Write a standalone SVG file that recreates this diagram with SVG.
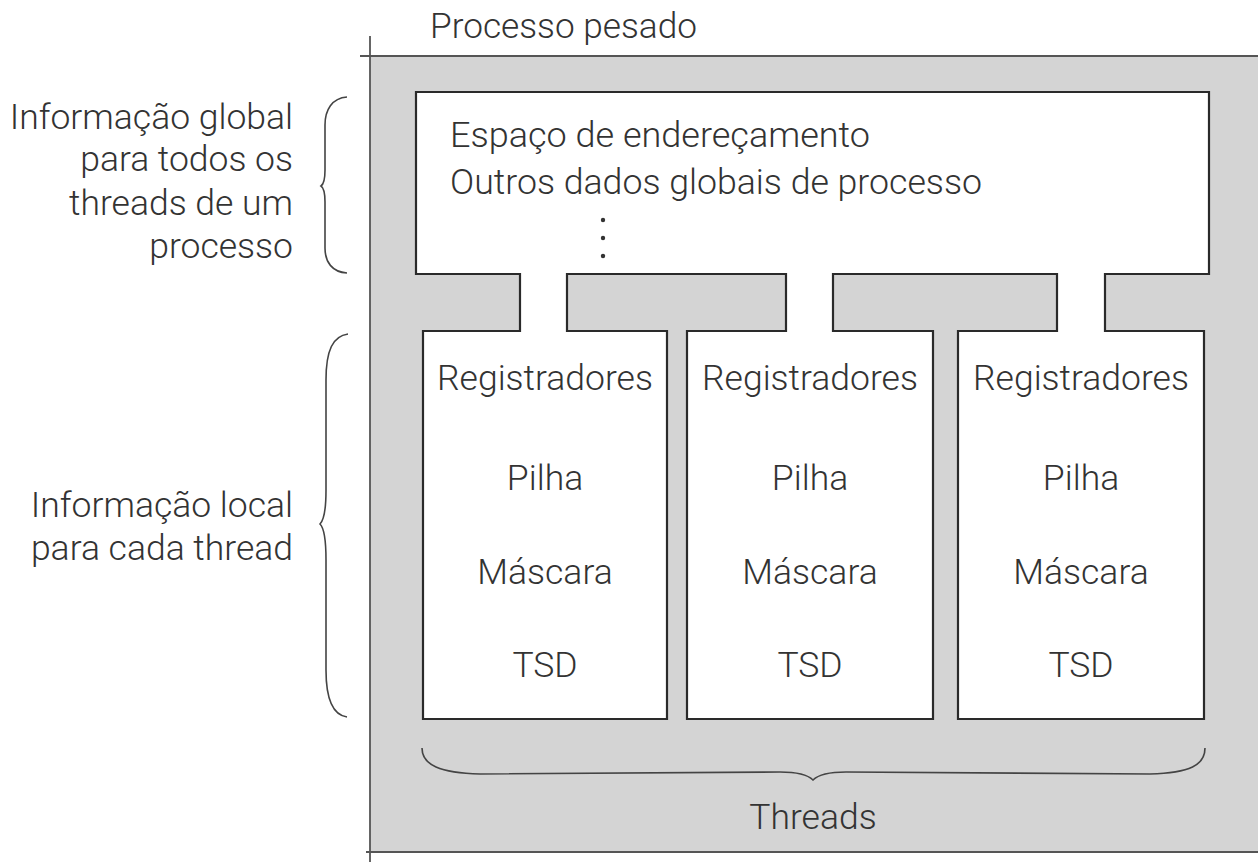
<svg xmlns="http://www.w3.org/2000/svg" width="1258" height="863" viewBox="0 0 1258 863">
<style>
  text { font-family: Roboto, "Liberation Sans", sans-serif; font-weight: 300; fill: #333; font-size: 35.5px; }
  .c { text-anchor: middle; }
  .r { text-anchor: end; }
  .frame { stroke: #555; stroke-width: 1.8; fill: none; }
  .outline { stroke: #2a2a2a; stroke-width: 2.2; fill: #fff; stroke-linejoin: miter; }
  .brace { stroke: #444; stroke-width: 1.6; fill: none; }
</style>
<rect x="0" y="0" width="1258" height="863" fill="#fff"/>
<g id="processo">
  <rect x="370" y="56" width="888" height="796" fill="#d4d4d4"/>
  <line class="frame" x1="360" y1="56" x2="1258" y2="56"/>
  <line class="frame" x1="370" y1="36" x2="370" y2="862"/>
  <line class="frame" x1="366" y1="852" x2="1258" y2="852"/>
  <text x="430" y="38" textLength="267" lengthAdjust="spacingAndGlyphs">Processo pesado</text>
</g>
<g id="estrutura">
  <path class="outline" d="M416,92 H1209 V274 H1105 V331 H1204 V719 H958 V331 H1057 V274 H833 V331 H933 V719 H687 V331 H786 V274 H567 V331 H667 V719 H423 V331 H520 V274 H416 Z"/>
</g>
<g id="global">
  <text x="450" y="147" textLength="420" lengthAdjust="spacingAndGlyphs">Espaço de endereçamento</text>
  <text x="450" y="194" textLength="532" lengthAdjust="spacingAndGlyphs">Outros dados globais de processo</text>
  <circle cx="603" cy="220" r="2.2" fill="#333"/>
  <circle cx="603" cy="238" r="2.2" fill="#333"/>
  <circle cx="603" cy="256" r="2.2" fill="#333"/>
</g>
<g id="thread1">
  <text class="c" x="545" y="390">Registradores</text>
  <text class="c" x="545" y="490">Pilha</text>
  <text class="c" x="545" y="584">Máscara</text>
  <text class="c" x="545" y="677">TSD</text>
</g>
<g id="thread2">
  <text class="c" x="810" y="390">Registradores</text>
  <text class="c" x="810" y="490">Pilha</text>
  <text class="c" x="810" y="584">Máscara</text>
  <text class="c" x="810" y="677">TSD</text>
</g>
<g id="thread3">
  <text class="c" x="1081" y="390">Registradores</text>
  <text class="c" x="1081" y="490">Pilha</text>
  <text class="c" x="1081" y="584">Máscara</text>
  <text class="c" x="1081" y="677">TSD</text>
</g>
<g id="rotulo-global">
  <text class="r" x="293" y="129">Informação global</text>
  <text class="r" x="293" y="171">para todos os</text>
  <text class="r" x="293" y="215">threads de um</text>
  <text class="r" x="293" y="258">processo</text>
</g>
<g id="rotulo-local">
  <text class="r" x="293" y="517">Informação local</text>
  <text class="r" x="293" y="560">para cada thread</text>
</g>
<g id="rotulo-threads">
  <text class="c" x="813" y="829">Threads</text>
</g>
<g id="chaves">
  <path class="brace" d="M347,97 C332,98 325,110 325,125 L325,170 C325,180 324,184 321,186 C324,188 325,192 325,202 L325,248 C325,262 332,272 347,273"/>
  <path class="brace" d="M348,334 C333,336 326,350 326,380 L326,490 C326,510 324,520 320,524 C324,528 326,538 326,560 L326,670 C326,700 333,715 347,717"/>
  <path class="brace" d="M422,748 C422,765 440,773 480,774 L780,772 C800,772 808,775 813,780 C818,775 826,772 846,772 L1150,774 C1190,773 1205,765 1205,748"/>
</g>
</svg>
